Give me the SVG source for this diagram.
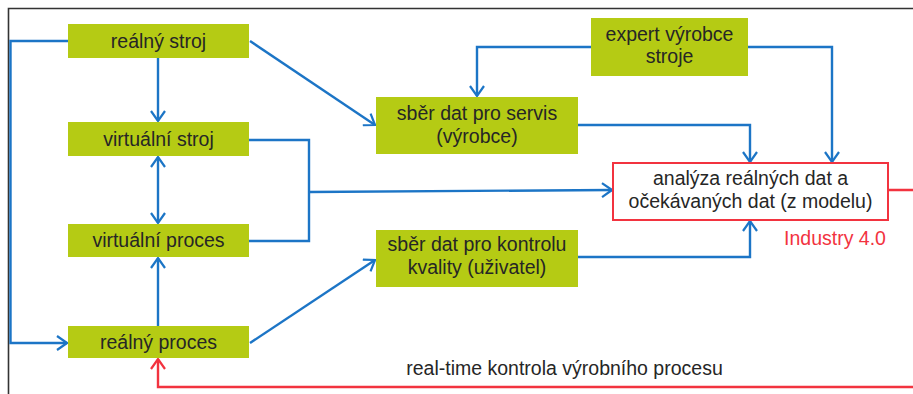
<svg xmlns="http://www.w3.org/2000/svg" width="913" height="394" viewBox="0 0 913 394">
<style>
.n{fill:#b5cb14;}
.t{font-family:"Liberation Sans",Arial,sans-serif;font-size:19.5px;fill:#262626;text-anchor:middle;}
.c{fill:none;stroke:#1c75c6;stroke-width:2.4;}
.r{fill:none;stroke:#f2333f;stroke-width:2.4;}
</style>
<defs>
<marker id="ab" viewBox="0 0 12 16" refX="11" refY="8" markerWidth="12" markerHeight="16" markerUnits="userSpaceOnUse" orient="auto-start-reverse">
<path d="M1,1 L11,8 L1,15" fill="none" stroke="#1c75c6" stroke-width="2.2"/>
</marker>
<marker id="ar" viewBox="0 0 12 16" refX="11" refY="8" markerWidth="12" markerHeight="16" markerUnits="userSpaceOnUse" orient="auto">
<path d="M1,1 L11,8 L1,15" fill="none" stroke="#f2333f" stroke-width="2.2"/>
</marker>
</defs>
<rect width="913" height="394" fill="#ffffff"/>
<path d="M8.5,394 V8.5 H913" fill="none" stroke="#333333" stroke-width="1.6"/>
<g id="connectors">
<path class="c" d="M68,41 H10.5 V343 H67" marker-end="url(#ab)"/>
<path class="c" d="M158,58 V121" marker-end="url(#ab)"/>
<path class="c" d="M158,157 V223" marker-start="url(#ab)" marker-end="url(#ab)"/>
<path class="c" d="M158,326 V258" marker-end="url(#ab)"/>
<path class="c" d="M250,41 L375,125" marker-end="url(#ab)"/>
<path class="c" d="M249,140 H309 V241 H249"/>
<path class="c" d="M309,192 L612,190" marker-end="url(#ab)"/>
<path class="c" d="M591,47 H477 V96" marker-end="url(#ab)"/>
<path class="c" d="M748,47 H832 V162" marker-end="url(#ab)"/>
<path class="c" d="M578,125 H750 V162" marker-end="url(#ab)"/>
<path class="c" d="M578,257 H750 V221" marker-end="url(#ab)"/>
<path class="c" d="M250,343 L375,260" marker-end="url(#ab)"/>
<path class="r" d="M888,190 H920 V387 H158 V359" marker-end="url(#ar)"/>
</g>
<g id="realny-stroj"><rect class="n" x="68" y="24" width="181" height="34"/><text class="t" x="158.5" y="48">reálný stroj</text></g>
<g id="virtualni-stroj"><rect class="n" x="68" y="122" width="181" height="34"/><text class="t" x="158.5" y="146">virtuální stroj</text></g>
<g id="virtualni-proces"><rect class="n" x="68" y="224" width="181" height="33"/><text class="t" x="158.5" y="247">virtuální proces</text></g>
<g id="realny-proces"><rect class="n" x="68" y="326" width="181" height="32"/><text class="t" x="158.5" y="349">reálný proces</text></g>
<g id="sber-servis"><rect class="n" x="376" y="97" width="202" height="57"/><text class="t" x="477" y="120">sběr dat pro servis</text><text class="t" x="477" y="143">(výrobce)</text></g>
<g id="expert"><rect class="n" x="591" y="18" width="157" height="58"/><text class="t" x="669.5" y="41">expert výrobce</text><text class="t" x="669.5" y="63">stroje</text></g>
<g id="sber-kvalita"><rect class="n" x="376" y="230" width="202" height="57"/><text class="t" x="477" y="251">sběr dat pro kontrolu</text><text class="t" x="477" y="274">kvality (uživatel)</text></g>
<g id="analyza"><rect x="613" y="163" width="275" height="57" fill="#ffffff" stroke="#f2333f" stroke-width="2"/><text class="t" x="750.5" y="185">analýza reálných dat a</text><text class="t" x="750.5" y="208">očekávaných dat (z modelu)</text></g>
<text class="t" x="835" y="245" style="fill:#f2333f">Industry 4.0</text>
<text class="t" x="564.5" y="375">real-time kontrola výrobního procesu</text>
</svg>
